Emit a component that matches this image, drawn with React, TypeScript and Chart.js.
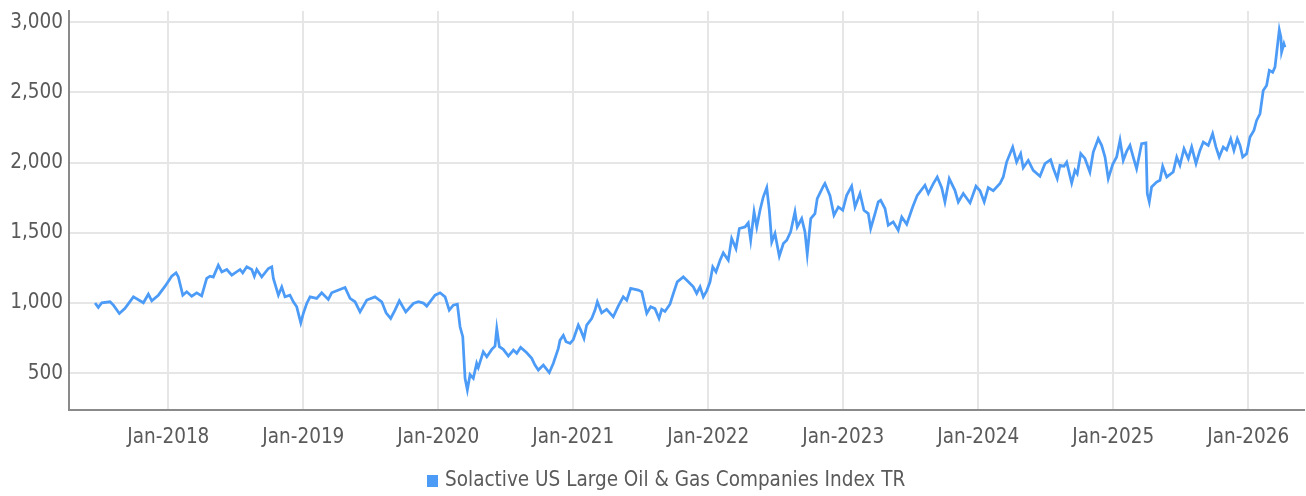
import React, { useEffect, useRef } from "react";
import { Chart, registerables } from "chart.js";

Chart.register(...registerables);

const seriesLabel = "Solactive US Large Oil & Gas Companies Index TR";
const yTickValues = [500, 1000, 1500, 2000, 2500, 3000];
const xTickYears = [2018, 2019, 2020, 2021, 2022, 2023, 2024, 2025, 2026];

// observation dates as decimal years
const dates = [
  2017.457, 2017.481, 2017.507, 2017.568, 2017.593, 2017.637, 2017.679, 2017.741, 2017.815, 2017.852, 2017.877, 2017.926, 2017.976,
  2018.025, 2018.057, 2018.074, 2018.107, 2018.136, 2018.173, 2018.21, 2018.247, 2018.284, 2018.309, 2018.333, 2018.37, 2018.396, 2018.433, 2018.47, 2018.531, 2018.551, 2018.581, 2018.618, 2018.637, 2018.655, 2018.692, 2018.741, 2018.766, 2018.778, 2018.815, 2018.84, 2018.864, 2018.901, 2018.926, 2018.951, 2018.981,
  2019.0, 2019.025, 2019.05, 2019.099, 2019.136, 2019.185, 2019.21, 2019.247, 2019.309, 2019.346, 2019.383, 2019.42, 2019.47, 2019.531, 2019.581, 2019.613, 2019.647, 2019.679, 2019.711, 2019.759, 2019.815, 2019.852, 2019.889, 2019.914, 2019.976,
  2020.013, 2020.05, 2020.081, 2020.111, 2020.141, 2020.161, 2020.181, 2020.198, 2020.215, 2020.235, 2020.259, 2020.284, 2020.296, 2020.333, 2020.359, 2020.396, 2020.42, 2020.433, 2020.452, 2020.481, 2020.519, 2020.556, 2020.581, 2020.61, 2020.655, 2020.692, 2020.716, 2020.741, 2020.778, 2020.822, 2020.852, 2020.889, 2020.901, 2020.926, 2020.946, 2020.976,
  2021.0, 2021.037, 2021.055, 2021.079, 2021.099, 2021.136, 2021.161, 2021.178, 2021.21, 2021.247, 2021.296, 2021.333, 2021.37, 2021.396, 2021.425, 2021.481, 2021.507, 2021.544, 2021.573, 2021.605, 2021.635, 2021.655, 2021.679, 2021.716, 2021.741, 2021.77, 2021.815, 2021.852, 2021.889, 2021.914, 2021.939, 2021.963, 2021.988,
  2022.013, 2022.033, 2022.057, 2022.087, 2022.111, 2022.148, 2022.173, 2022.205, 2022.23, 2022.272, 2022.296, 2022.314, 2022.339, 2022.359, 2022.383, 2022.407, 2022.433, 2022.452, 2022.47, 2022.494, 2022.526, 2022.556, 2022.581, 2022.61, 2022.642, 2022.659, 2022.692, 2022.716, 2022.733, 2022.759, 2022.79, 2022.807, 2022.852, 2022.864, 2022.901, 2022.931, 2022.963, 2022.996,
  2023.025, 2023.062, 2023.087, 2023.124, 2023.153, 2023.185, 2023.203, 2023.235, 2023.259, 2023.277, 2023.309, 2023.333, 2023.37, 2023.407, 2023.433, 2023.47, 2023.514, 2023.548, 2023.605, 2023.63, 2023.667, 2023.696, 2023.729, 2023.753, 2023.785, 2023.827, 2023.852, 2023.889, 2023.939, 2023.983,
  2024.013, 2024.044, 2024.074, 2024.111, 2024.161, 2024.185, 2024.21, 2024.255, 2024.284, 2024.314, 2024.333, 2024.37, 2024.407, 2024.457, 2024.494, 2024.536, 2024.556, 2024.585, 2024.605, 2024.635, 2024.655, 2024.692, 2024.716, 2024.733, 2024.759, 2024.79, 2024.827, 2024.852, 2024.889, 2024.914, 2024.939, 2024.963, 2024.996,
  2025.025, 2025.05, 2025.074, 2025.099, 2025.124, 2025.148, 2025.173, 2025.21, 2025.242, 2025.252, 2025.267, 2025.284, 2025.321, 2025.346, 2025.366, 2025.396, 2025.444, 2025.47, 2025.494, 2025.524, 2025.556, 2025.581, 2025.613, 2025.642, 2025.667, 2025.704, 2025.736, 2025.761, 2025.785, 2025.815, 2025.84, 2025.87, 2025.894, 2025.919, 2025.939, 2025.959, 2025.988,
  2026.013, 2026.042, 2026.062, 2026.087, 2026.111, 2026.136, 2026.156, 2026.181, 2026.198, 2026.215, 2026.23, 2026.242, 2026.247, 2026.264, 2026.272,
];

// index level at each date
const values = [
  1000, 969, 1002, 1009, 985, 926, 962, 1044, 1002, 1063, 1016, 1056, 1120,
  1191, 1215, 1186, 1056, 1080, 1049, 1073, 1051, 1175, 1191, 1185, 1270, 1222, 1239, 1199, 1239, 1215, 1258, 1239, 1191, 1239, 1186, 1246, 1258, 1175, 1056, 1115, 1044, 1056, 1009, 973, 859,
  926, 997, 1044, 1033, 1073, 1026, 1073, 1087, 1111, 1033, 1009, 937, 1021, 1044, 1009, 930, 890, 950, 1016, 937, 997, 1009, 1000, 978, 1056,
  1073, 1044, 950, 985, 992, 831, 760, 464, 381, 490, 464, 571, 540, 653, 617, 670, 693, 819, 689, 670, 622, 665, 642, 684, 646, 606, 558, 523, 558, 504, 571, 677, 734, 770, 724, 713,
  740, 843, 807, 748, 843, 890, 950, 1009, 930, 955, 902, 978, 1044, 1020, 1104, 1092, 1080, 926, 973, 960, 890, 955, 940, 992, 1068, 1151, 1186, 1151, 1115, 1068, 1115, 1044, 1087,
  1151, 1258, 1222, 1305, 1357, 1305, 1460, 1388, 1531, 1542, 1571, 1447, 1649, 1542, 1661, 1755, 1822, 1661, 1435, 1495, 1334, 1424, 1447, 1507, 1649, 1542, 1602, 1507, 1348, 1602, 1637, 1744, 1832, 1851, 1767, 1625, 1684, 1661,
  1767, 1832, 1684, 1780, 1661, 1637, 1531, 1637, 1720, 1732, 1673, 1554, 1578, 1519, 1613, 1561, 1684, 1767, 1839, 1780, 1851, 1898, 1822, 1720, 1886, 1803, 1720, 1780, 1713, 1832,
  1800, 1720, 1822, 1800, 1851, 1898, 2004, 2111, 2004, 2064, 1964, 2016, 1945, 1903, 1993, 2021, 1960, 1886, 1980, 1975, 2004, 1855, 1945, 1920, 2064, 2030, 1933, 2075, 2170, 2123, 2040, 1886, 1988,
  2040, 2159, 2016, 2080, 2123, 2040, 1957, 2135, 2140, 1780, 1720, 1827, 1862, 1874, 1974, 1898, 1933, 2040, 1981, 2099, 2028, 2111, 1993, 2087, 2147, 2123, 2206, 2111, 2040, 2111, 2090, 2170, 2087, 2170, 2123, 2040, 2064,
  2182, 2230, 2301, 2348, 2514, 2550, 2657, 2644, 2680, 2822, 2946, 2893, 2787, 2846, 2822,
];

const FONT = "'DejaVu Sans Condensed', 'Liberation Sans Narrow', sans-serif";
const FONT_SIZE = 20.5;
const LINE_COLOR = "#4c9bf7";
const LEGEND_SHIFT = 16;

export default function App() {
  const ref = useRef<HTMLCanvasElement>(null);

  useEffect(() => {
    if (!ref.current) return;
    // square legend marker
    const marker = document.createElement("canvas");
    marker.width = 11;
    marker.height = 12;
    const mctx = marker.getContext("2d");
    if (mctx) {
      mctx.fillStyle = LINE_COLOR;
      mctx.fillRect(0, 0, 11, 12);
    }

    const legendShift = {
      id: "legendShift",
      afterLayout(c: any) {
        if (c.legend) {
          c.legend.left += LEGEND_SHIFT;
          c.legend.right += LEGEND_SHIFT;
        }
      },
    };

    const chart = new Chart(ref.current, {
      type: "line",
      data: {
        datasets: [
          {
            label: seriesLabel,
            data: dates.map((d, i) => ({ x: d, y: values[i] })),
            borderColor: LINE_COLOR,
            backgroundColor: LINE_COLOR,
            borderWidth: 2.75,
            pointRadius: 0,
            tension: 0,
          },
        ],
      },
      options: {
        animation: false,
        responsive: false,
        maintainAspectRatio: false,
        layout: { padding: { left: 0, right: 2, top: 11, bottom: 0 } },
        scales: {
          x: {
            type: "linear",
            min: 2017.264,
            max: 2026.413,
            afterBuildTicks: (s: any) => {
              s.ticks = xTickYears.map((v) => ({ value: v }));
            },
            afterFit: (s: any) => {
              s.height = 50.75;
              s.paddingLeft = 0;
              s.paddingRight = 0;
            },
            ticks: {
              autoSkip: false,
              maxRotation: 0,
              padding: 16,
              color: "#5a5a5a",
              font: { family: FONT, size: FONT_SIZE },
              callback: (v: any) => "Jan-" + v,
            },
            grid: { color: "#e6e6e6", lineWidth: 2, drawTicks: false },
            border: { color: "#8a8a8a", width: 2 },
          },
          y: {
            type: "linear",
            min: 240,
            max: 3080,
            afterBuildTicks: (s: any) => {
              s.ticks = yTickValues.map((v) => ({ value: v }));
            },
            afterFit: (s: any) => {
              s.width = 69;
              s.paddingTop = 0;
              s.paddingBottom = 0;
            },
            ticks: {
              padding: 6,
              color: "#5a5a5a",
              font: { family: FONT, size: FONT_SIZE },
              callback: (v: any) => Number(v).toLocaleString("en-US"),
            },
            grid: { color: "#e6e6e6", lineWidth: 2, drawTicks: false },
            border: { color: "#8a8a8a", width: 2 },
          },
        },
        plugins: {
          legend: {
            position: "bottom",
            labels: {
              usePointStyle: true,
              pointStyle: marker as any,
              pointStyleWidth: 4,
              boxHeight: 12,
              padding: 10,
              color: "#5a5a5a",
              font: { family: FONT, size: FONT_SIZE },
            },
          },
          tooltip: { enabled: false },
        },
      },
      plugins: [legendShift],
    });
    return () => chart.destroy();
  }, []);

  return (
    <div style={{ position: "fixed", left: 0, top: 0, width: 1306, height: 501, background: "#fff" }}>
      <canvas ref={ref} width={1306} height={501} style={{ width: 1306, height: 501, display: "block" }} />
    </div>
  );
}
